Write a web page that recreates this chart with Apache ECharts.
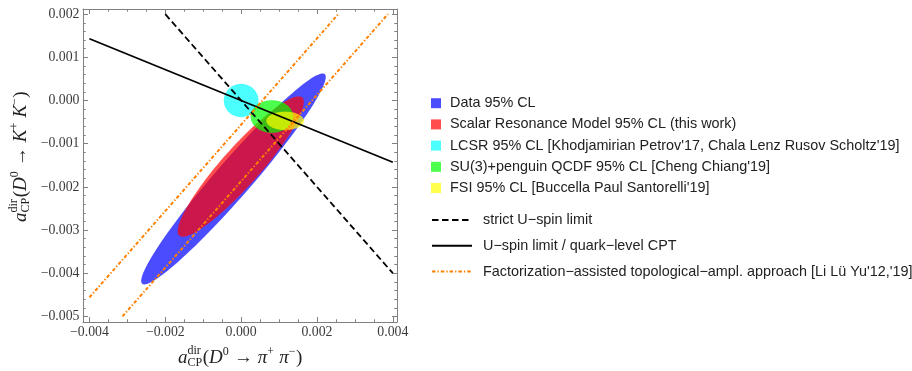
<!DOCTYPE html>
<html>
<head>
<meta charset="utf-8">
<script src="https://cdn.jsdelivr.net/npm/echarts@6/dist/echarts.min.js"></script>
<style>
  html, body { margin: 0; padding: 0; background: #fff; }
  #main { width: 912px; height: 371px; }
</style>
</head>
<body>
<div id="main"></div>
<script>
// axis ranges and ticks
var xMin = -0.00417, xMax = 0.00411;
var yMin = -0.00513, yMax = 0.00212;
var xMajorTicks = [-0.004, -0.002, 0, 0.002, 0.004];
var xMinorTicks = [-0.0035, -0.003, -0.0025, -0.0015, -0.001, -0.0005, 0.0005, 0.001, 0.0015, 0.0025, 0.003, 0.0035];
var yMajorTicks = [-0.005, -0.004, -0.003, -0.002, -0.001, 0, 0.001, 0.002];
var yMinorTicks = [-0.0048, -0.0046, -0.0044, -0.0042, -0.0038, -0.0036, -0.0034, -0.0032,
  -0.0028, -0.0026, -0.0024, -0.0022, -0.0018, -0.0016, -0.0014, -0.0012,
  -0.0008, -0.0006, -0.0004, -0.0002, 0.0002, 0.0004, 0.0006, 0.0008,
  0.0012, 0.0014, 0.0016, 0.0018];

// 95% CL regions: centre, first and second half-axis (conjugate) vectors
var regionNames = ['Data 95% CL', 'Scalar Resonance Model 95% CL (this work)',
  'LCSR 95% CL [Khodjamirian Petrov\'17, Chala Lenz Rusov Scholtz\'19]',
  'SU(3)+penguin QCDF 95% CL [Cheng Chiang\'19]',
  'FSI 95% CL [Buccella Paul Santorelli\'19]'];
var regionCenters = [[-0.000202, -0.001816], [-0.00001, -0.00153], [0, 0], [0.00081, -0.00037], [0.00116, -0.00047]];
var regionAxisA = [[0.002407, 0.002428], [0.00162, 0.0016], [0.000457, 0], [0.00056, 0], [0.000496, 0]];
var regionAxisB = [[0.000359, -0.000273], [0.000375, -0.000292], [0, 0.000386], [0, 0.000377], [0, 0.000213]];
var regionColors = ['rgba(0,0,255,0.7)', 'rgba(255,0,0,0.7)', 'rgba(0,255,255,0.7)', 'rgba(0,255,0,0.7)', 'rgba(255,255,0,0.7)'];

// limit lines
var lineNames = ['strict U\u2212spin limit', 'U\u2212spin limit / quark\u2212level CPT',
  'Factorization\u2212assisted topological\u2212ampl. approach [Li L\u00fc Yu\'12,\'19]'];
var strictUspin = [[-0.002, 0.002], [0.004, -0.004]];
var uspinCPT = [[-0.004, 0.00143], [0.004, -0.00143]];
var factLow = [[-0.004, -0.00456], [0.00256, 0.002]];
var factHigh = [[-0.00313, -0.005], [0.00387, 0.002]];

var frameColor = '#808080';
var labelColor = '#3a3a3a';
var serif = '"Liberation Serif", "Times New Roman", serif';
var sans = '"Liberation Sans", Arial, sans-serif';

function fmt(v) {
  return (v < 0 ? '\u2212' : '') + Math.abs(v).toFixed(3);
}

function frameAxis(pos, min, max, ticks, len, withLine, withLabel) {
  return {
    type: 'value', position: pos, min: min, max: max,
    axisLine: { show: withLine, onZero: false, lineStyle: { color: frameColor, width: 1 } },
    axisTick: { show: true, inside: true, length: len, customValues: ticks, lineStyle: { color: frameColor, width: 1 } },
    axisLabel: {
      show: withLabel, customValues: ticks, formatter: fmt, margin: 3.5,
      fontFamily: serif, fontSize: 13.8, color: labelColor
    },
    splitLine: { show: false }
  };
}

function renderRegion(params, api) {
  var cx = api.value(0), cy = api.value(1);
  var ax = api.value(2), ay = api.value(3), bx = api.value(4), by = api.value(5);
  var pts = [];
  for (var i = 0; i < 120; i++) {
    var t = i / 120 * 2 * Math.PI;
    pts.push(api.coord([cx + Math.cos(t) * ax + Math.sin(t) * bx, cy + Math.cos(t) * ay + Math.sin(t) * by]));
  }
  return { type: 'polygon', shape: { points: pts }, style: { fill: api.visual('color') } };
}

// math-style axis titles built from text pieces
var mainSize = 19, smallSize = 12;
var measureCtx = document.createElement('canvas').getContext('2d');
function textW(s, size, italic) {
  measureCtx.font = (italic ? 'italic ' : '') + size + 'px ' + serif;
  return measureCtx.measureText(s).width;
}
function piece(s, x, y, size, italic) {
  return {
    type: 'text', x: x, y: y,
    style: { text: s, font: (italic ? 'italic ' : '') + size + 'px ' + serif, fill: '#222', align: 'left', verticalAlign: 'middle' }
  };
}
function mathTitle(parts, x, y, rotation) {
  var kids = [], cx = 0;
  parts.forEach(function (p) {
    if (p.sub || p.sup) {
      var w = 0;
      var supY = p.sub ? -7 : -6;
      if (p.sup) { kids.push(piece(p.sup, cx, supY, smallSize)); w = Math.max(w, textW(p.sup, smallSize)); }
      if (p.sub) { kids.push(piece(p.sub, cx, 5, smallSize)); w = Math.max(w, textW(p.sub, smallSize)); }
      cx += w + 0.5;
    } else {
      kids.push(piece(p.t, cx, 0, mainSize, p.it));
      cx += textW(p.t, mainSize, p.it);
    }
  });
  return { type: 'group', x: x, y: y, rotation: rotation, children: kids };
}
var xTitle = [{ t: 'a', it: true }, { sub: 'CP', sup: 'dir' }, { t: '(' }, { t: 'D', it: true }, { sup: '0' },
  { t: ' \u2192 ' }, { t: '\u03c0', it: true }, { sup: '+' }, { t: ' ' }, { t: '\u03c0', it: true }, { sup: '\u2212' }, { t: ')' }];
var yTitle = [{ t: 'a', it: true }, { sub: 'CP', sup: 'dir' }, { t: '(' }, { t: 'D', it: true }, { sup: '0' },
  { t: ' \u2192 ' }, { t: 'K', it: true }, { sup: '+' }, { t: ' ' }, { t: 'K', it: true }, { sup: '\u2212' }, { t: ')' }];

var series = [];
regionNames.forEach(function (name, i) {
  series.push({
    type: 'custom', name: name, renderItem: renderRegion,
    data: [[regionCenters[i][0], regionCenters[i][1], regionAxisA[i][0], regionAxisA[i][1], regionAxisB[i][0], regionAxisB[i][1]]],
    encode: { x: 0, y: 1 },
    itemStyle: { color: regionColors[i] },
    z: 2, silent: true
  });
});
var lineSpecs = [
  { name: lineNames[0], data: strictUspin, color: '#000', width: 1.8, type: [6.5, 3.5] },
  { name: lineNames[1], data: uspinCPT, color: '#000', width: 1.8, type: 'solid' },
  { name: lineNames[2], data: factLow, color: '#ff8000', width: 2, type: [3.5, 2, 1.3, 2] },
  { name: lineNames[2], data: factHigh, color: '#ff8000', width: 2, type: [3.5, 2, 1.3, 2] }
];
lineSpecs.forEach(function (s) {
  series.push({
    type: 'line', name: s.name, data: s.data, symbol: 'none',
    itemStyle: { color: s.color },
    lineStyle: { color: s.color, width: s.width, type: s.type },
    z: 3, silent: true
  });
});

var myChart = echarts.init(document.getElementById('main'));
var option = {
  animation: false,
  grid: { left: 83, top: 9, right: 515, bottom: 49 },
  xAxis: [
    frameAxis('bottom', xMin, xMax, xMajorTicks, 5, true, true),
    frameAxis('bottom', xMin, xMax, xMinorTicks, 2.7, false, false),
    frameAxis('top', xMin, xMax, xMajorTicks, 5, true, false),
    frameAxis('top', xMin, xMax, xMinorTicks, 2.7, false, false)
  ],
  yAxis: [
    frameAxis('left', yMin, yMax, yMajorTicks, 5, true, true),
    frameAxis('left', yMin, yMax, yMinorTicks, 2.7, false, false),
    frameAxis('right', yMin, yMax, yMajorTicks, 5, true, false),
    frameAxis('right', yMin, yMax, yMinorTicks, 2.7, false, false)
  ],
  legend: [
    {
      data: regionNames.map(function (n) { return { name: n, icon: 'rect' }; }),
      orient: 'vertical', left: 426, top: 90.2, itemWidth: 10, itemHeight: 10, itemGap: 5.2,
      selectedMode: false,
      textStyle: { fontFamily: sans, fontSize: 14.4, color: '#222', lineHeight: 16, padding: [0, 0, 0, 4] }
    },
    {
      data: lineNames,
      orient: 'vertical', left: 426, top: 207, itemWidth: 40, itemHeight: 10, itemGap: 9.8,
      selectedMode: false,
      itemStyle: { opacity: 0 },
      textStyle: { fontFamily: sans, fontSize: 14.4, color: '#222', lineHeight: 16, padding: [0, 0, 0, 6] }
    }
  ],
  graphic: [
    mathTitle(xTitle, 178, 358, 0),
    mathTitle(yTitle, 21, 222, Math.PI / 2)
  ],
  series: series
};
myChart.setOption(option);

window.addEventListener('resize', function () {
  myChart.resize();
});
</script>
</body>
</html>
